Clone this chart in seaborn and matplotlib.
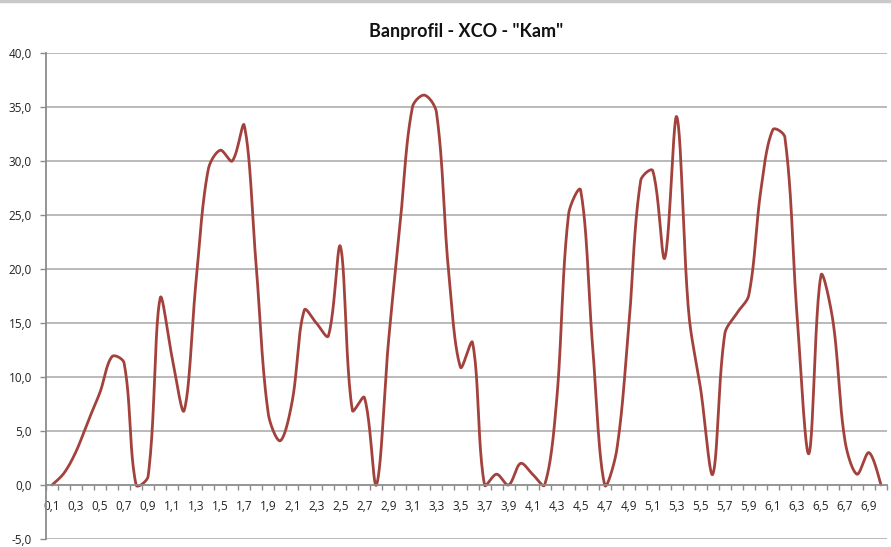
import numpy as np
import pandas as pd
import matplotlib
matplotlib.use("Agg")
import matplotlib.pyplot as plt
import seaborn as sns
from matplotlib.ticker import FixedLocator, FuncFormatter
from matplotlib.lines import Line2D

# Distance along the track (km) and elevation profile (m)
distance_km = [0.1, 0.2, 0.3, 0.4, 0.5, 0.6, 0.7, 0.8, 0.9, 1.0,
               1.1, 1.2, 1.3, 1.4, 1.5, 1.6, 1.7, 1.8, 1.9, 2.0,
               2.1, 2.2, 2.3, 2.4, 2.5, 2.6, 2.7, 2.8, 2.9, 3.0,
               3.1, 3.2, 3.3, 3.4, 3.5, 3.6, 3.7, 3.8, 3.9, 4.0,
               4.1, 4.2, 4.3, 4.4, 4.5, 4.6, 4.7, 4.8, 4.9, 5.0,
               5.1, 5.2, 5.3, 5.4, 5.5, 5.6, 5.7, 5.8, 5.9, 6.0,
               6.1, 6.2, 6.3, 6.4, 6.5, 6.6, 6.7, 6.8, 6.9, 7.0]
elevation = [0.0, 1.1, 3.1, 5.9, 8.6, 11.9, 11.3, 0.0, 0.8, 17.3,
             11.8, 6.9, 19.0, 29.2, 31.0, 30.0, 33.3, 20.2, 6.6, 4.1,
             7.8, 16.2, 15.0, 13.8, 22.1, 6.9, 8.1, 0.0, 13.2, 24.5,
             35.0, 36.1, 34.5, 19.9, 10.9, 13.2, 0.0, 1.0, 0.0, 2.0,
             1.0, 0.0, 7.8, 25.1, 27.3, 12.8, 0.0, 3.2, 14.6, 28.2,
             29.1, 21.0, 34.1, 15.9, 8.8, 1.0, 14.0, 15.9, 17.6, 27.3,
             32.9, 32.2, 15.9, 2.9, 19.4, 15.2, 4.1, 1.0, 3.0, 0.0]
y_ticks = [-5, 0, 5, 10, 15, 20, 25, 30, 35, 40]
title = 'Banprofil - XCO - "Kam"'

LINE_COLOR = "#a3423d"
GRID_COLOR = "#b4b4b4"
AXIS_COLOR = "#8c8c8c"
TEXT_COLOR = "#222222"

# screen scale used for the smoothing (pixels per category / per metre)
PX_PER_CAT = 12.0
PX_PER_UNIT = 10.8


def smooth_curve(values, steps=24, tension=0.5):
    """Chord-weighted Bezier smoothing through every point (spreadsheet style)."""
    y = np.asarray(values, dtype=float)
    n = len(y)
    P = np.column_stack([np.arange(n) * PX_PER_CAT, y * PX_PER_UNIT])
    d = np.linalg.norm(np.diff(P, axis=0), axis=1)
    T = np.zeros_like(P)
    T[1:-1] = P[2:] - P[:-2]
    T[0] = P[1] - P[0]
    T[-1] = P[-1] - P[-2]
    t = np.linspace(0, 1, steps, endpoint=False)[:, None]
    pts = []
    for i in range(n - 1):
        p1, p2 = P[i], P[i + 1]
        dprev = d[i - 1] if i > 0 else d[i]
        dnext = d[i + 1] if i + 1 < n - 1 else d[i]
        c1 = p1 + T[i] * tension * d[i] / (dprev + d[i]) * (2 / 3 if i > 0 else 1 / 3)
        c2 = p2 - T[i + 1] * tension * d[i] / (d[i] + dnext) * (2 / 3 if i + 1 < n - 1 else 1 / 3)
        seg = ((1 - t) ** 3 * p1 + 3 * (1 - t) ** 2 * t * c1
               + 3 * (1 - t) * t ** 2 * c2 + t ** 3 * p2)
        pts.append(seg)
    pts.append(P[-1][None, :])
    pts = np.vstack(pts)
    return pts[:, 0] / PX_PER_CAT, pts[:, 1] / PX_PER_UNIT


sns.set_theme(style="white")
plt.rcParams["font.family"] = ["Open Sans", "DejaVu Sans"]

fig = plt.figure(figsize=(8.91, 5.47), dpi=100)
ax = fig.add_axes([46 / 891, 1 - 539 / 547, (887 - 46) / 891, (539 - 53) / 547])

sx, sy = smooth_curve(elevation)
curve = pd.DataFrame({"pos": sx, "elev": sy})
sns.lineplot(data=curve, x="pos", y="elev", ax=ax, color=LINE_COLOR,
             linewidth=2.0, estimator=None, sort=False)

n = len(distance_km)
ax.set_xlim(-0.5, n - 0.5)
ax.set_ylim(-5, 40)
ax.set_xlabel("")
ax.set_ylabel("")

# horizontal gridlines
ax.yaxis.set_major_locator(FixedLocator(y_ticks))
ax.yaxis.set_major_formatter(FuncFormatter(lambda v, _: f"{v:.1f}".replace(".", ",")))
for v in y_ticks:
    if v != 0:
        ax.axhline(v, color=GRID_COLOR, linewidth=1.3, zorder=0)

# category axis sitting at zero
for side in ("top", "right"):
    ax.spines[side].set_visible(False)
ax.spines["bottom"].set_position(("data", 0))
ax.spines["bottom"].set_color(AXIS_COLOR)
ax.spines["bottom"].set_linewidth(1.3)
ax.spines["left"].set_color(AXIS_COLOR)
ax.spines["left"].set_linewidth(1.3)

label_idx = list(range(0, n, 2))
ax.xaxis.set_major_locator(FixedLocator(label_idx))
ax.set_xticklabels([f"{distance_km[i]:.1f}".replace(".", ",") for i in label_idx])
ax.xaxis.set_minor_locator(FixedLocator([i + 0.5 for i in range(-1, n)]))
ax.tick_params(axis="x", which="major", length=0, pad=11, labelsize=8.5,
               colors=TEXT_COLOR)
ax.tick_params(axis="x", which="minor", length=3.5, width=1.0, direction="out",
               color=AXIS_COLOR, bottom=True)
ax.tick_params(axis="y", which="major", length=4, width=1.0, direction="out",
               color=AXIS_COLOR, pad=6, labelsize=8.5, colors=TEXT_COLOR, left=True)
ax.tick_params(axis="y", colors=AXIS_COLOR, labelcolor=TEXT_COLOR)

fig.text(466 / 891, 1 - 31 / 547, title, ha="center", va="center",
         fontsize=13, fontweight="bold", color="#111111",
         family=["Lato", "DejaVu Sans"])

# thin frame edge across the top of the chart area
fig.add_artist(Line2D([0, 1], [1 - 1 / 547, 1 - 1 / 547], transform=fig.transFigure,
                      color="#c9c9c9", linewidth=2.5))

fig.savefig("out.png", dpi=100, facecolor="white")
